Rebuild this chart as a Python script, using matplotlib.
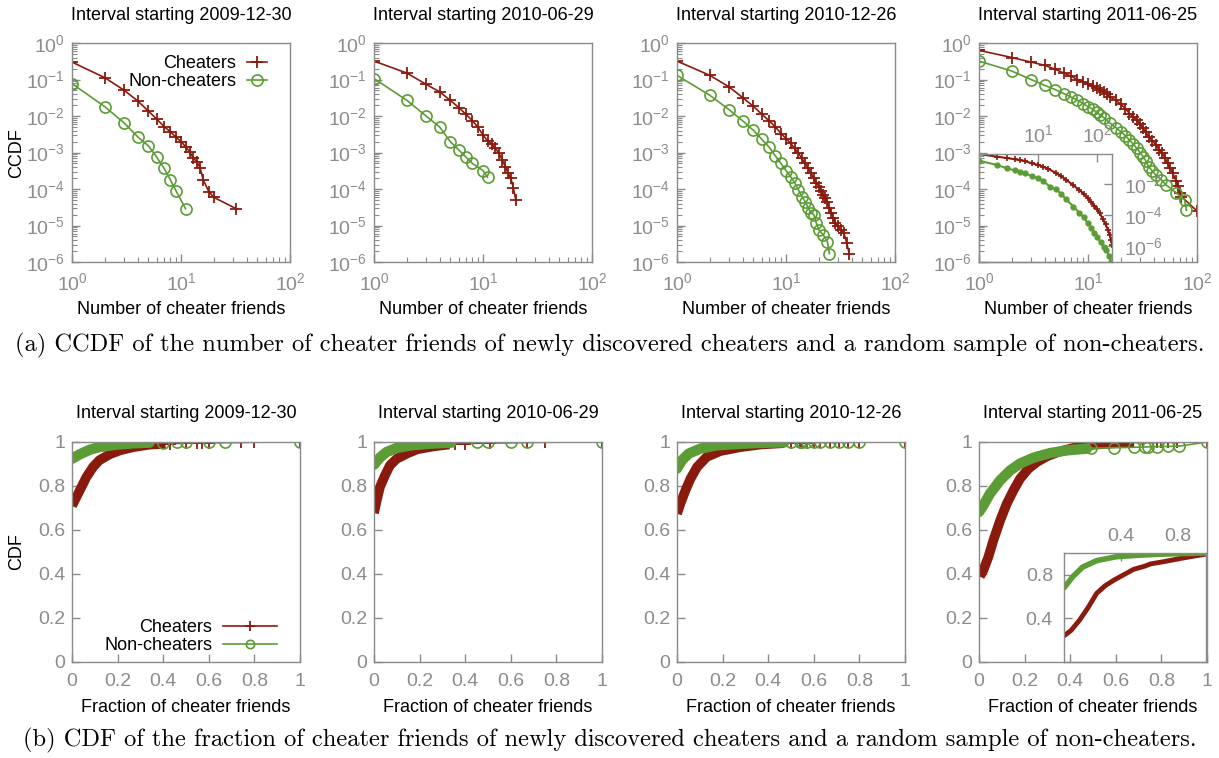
import matplotlib
matplotlib.use("Agg")
import matplotlib.pyplot as plt
from matplotlib.ticker import FixedLocator, NullFormatter, LogLocator

# Style parameters
RED = "#8b1a0e"
GREEN = "#5b9c34"
GRAY_AXIS = "#8a8a8a"
GRAY_TEXT = "#8c8c8c"
FONT = "Liberation Sans"
FS = 13
FS_TICK = 14

plt.rcParams["font.family"] = [FONT, "DejaVu Sans"]
plt.rcParams["mathtext.fontset"] = "custom"
plt.rcParams["mathtext.rm"] = FONT
plt.rcParams["mathtext.it"] = FONT
plt.rcParams["mathtext.bf"] = FONT

# ---------------- data ----------------
titles = ["Interval starting 2009-12-30", "Interval starting 2010-06-29",
          "Interval starting 2010-12-26", "Interval starting 2011-06-25"]

# (a) CCDF of number of cheater friends
ccdf_cheat_x1 = [1, 2, 3, 4, 5, 6, 7, 8, 9, 10, 11, 12, 13, 14, 15, 16, 18, 20, 32]
ccdf_cheat_y1 = [0.30, 0.112, 0.051, 0.026, 0.0138, 0.0082, 0.0051, 0.0037, 0.0026, 0.0020,
                 0.00145, 0.00105, 0.00069, 0.00056, 0.00037, 0.000177, 8.5e-5, 5.9e-5, 2.9e-5]
ccdf_non_x1 = [1, 2, 3, 4, 5, 6, 7, 8, 9, 11]
ccdf_non_y1 = [0.077, 0.018, 0.0065, 0.0027, 0.00154, 0.00074, 0.00037, 0.000177, 8.9e-5, 2.9e-5]

ccdf_cheat_x2 = [1, 2, 3, 4, 5, 6, 7, 8, 9, 10, 11, 12, 13, 14, 15, 16, 17, 18, 19, 20]
ccdf_cheat_y2 = [0.32, 0.15, 0.074, 0.046, 0.027, 0.017, 0.011, 0.0074, 0.0049, 0.0030,
                 0.0021, 0.0017, 0.0013, 0.00095, 0.00063, 0.00041, 0.00027, 0.000196,
                 0.000105, 5e-5]
ccdf_non_x2 = [1, 2, 3, 4, 5, 6, 7, 8, 10, 11]
ccdf_non_y2 = [0.106, 0.027, 0.010, 0.005, 0.0020, 0.00117, 0.00074, 0.0005, 0.00032, 0.00021]

ccdf_cheat_x3 = [1, 2, 3, 4, 5, 6, 7, 8, 9, 10, 11, 12, 13, 14, 15, 16, 17, 18, 19, 20,
                 21, 22, 23, 24, 25, 26, 27, 28, 30, 32, 34, 36, 38]
ccdf_cheat_y3 = [0.32, 0.13, 0.063, 0.032, 0.0186, 0.0112, 0.0074, 0.0050, 0.0033, 0.0024,
                 0.0018, 0.0013, 0.00095, 0.00069, 0.0005, 0.00037, 0.00027, 0.000196,
                 0.00015, 1.17e-4, 9e-5, 6.9e-5, 5.5e-5, 4.3e-5, 3.1e-5, 2.2e-5, 1.6e-5,
                 1.2e-5, 9.4e-6, 7.5e-6, 6.2e-6, 3.4e-6, 1.7e-6]
ccdf_non_x3 = [1, 2, 3, 4, 5, 6, 7, 8, 9, 10, 11, 12, 13, 14, 15, 16, 17, 18, 19, 20,
               22, 24, 25]
ccdf_non_y3 = [0.13, 0.037, 0.015, 0.0074, 0.0041, 0.0023, 0.0014, 0.0008, 0.0005, 0.00032,
               0.00022, 0.00015, 9.4e-5, 6.2e-5, 4.5e-5, 3.0e-5, 2.2e-5, 2e-5, 1.15e-5,
               7.6e-6, 5.5e-6, 3.6e-6, 1.7e-6]

ccdf_cheat_x4 = [1, 2, 3, 4, 5, 6, 7, 8, 9, 10, 11, 12, 13, 14, 15, 16, 18, 20, 22, 24, 26,
                 28, 30, 32, 34, 36, 39, 42, 45, 48, 51, 54, 57, 60, 64, 67, 70, 72, 100]
ccdf_cheat_y4 = [0.63, 0.40, 0.30, 0.245, 0.19, 0.15, 0.123, 0.10, 0.088, 0.074, 0.066,
                 0.058, 0.051, 0.045, 0.039, 0.033, 0.027, 0.021, 0.016, 0.0117, 0.0095,
                 0.0077, 0.006, 0.0046, 0.0036, 0.0027, 0.0021, 0.0016, 0.0012, 0.00095,
                 0.0007, 0.0005, 0.00037, 0.00027, 0.00017, 0.00012, 8e-5, 6.2e-5, 2.5e-5]
ccdf_non_x4 = [1, 2, 3, 4, 5, 6, 7, 8, 9, 10, 11, 12, 13, 14, 16, 18, 20, 22, 24, 26, 28,
               30, 32, 34, 36, 39, 42, 47, 52, 64, 77, 80]
ccdf_non_y4 = [0.32, 0.17, 0.10, 0.069, 0.053, 0.041, 0.033, 0.027, 0.022, 0.018, 0.0155,
               0.0125, 0.0105, 0.009, 0.0063, 0.0048, 0.0037, 0.0029, 0.0022, 0.0017, 0.0013,
               0.001, 0.00077, 0.00058, 0.00041, 0.00031, 0.00024, 0.00018, 0.00013, 8e-5,
               5e-5, 2.6e-5]

# inset of the last CCDF panel
inset_ccdf_cheat_x = [1, 2, 3, 4, 5, 6, 8, 10, 12, 15, 20, 25, 30, 40, 50, 60, 70, 80, 90,
                      100, 112, 125, 140, 155, 165, 175, 180]
inset_ccdf_cheat_y = [0.8, 0.54, 0.44, 0.37, 0.32, 0.28, 0.2, 0.16, 0.125, 0.09, 0.05, 0.03,
                      0.018, 0.008, 0.004, 0.0023, 0.0012, 0.0007, 0.0004, 0.00023, 0.00013,
                      6e-5, 2.5e-5, 1.1e-5, 5e-6, 2.5e-6, 1.3e-6]
inset_ccdf_non_x = [1, 2, 3, 4, 5, 6, 8, 10, 12, 16, 20, 25, 30, 40, 50, 60, 70, 80, 90, 100,
                    115, 130, 145, 160, 170]
inset_ccdf_non_y = [0.30, 0.16, 0.097, 0.072, 0.059, 0.048, 0.03, 0.022, 0.016, 0.0065,
                    0.0045, 0.0022, 0.001, 0.00035, 0.00014, 7e-5, 3e-5, 1.5e-5, 7e-6, 4e-6,
                    1.8e-6, 9e-7, 5.9e-7, 2.5e-7, 1.06e-7]

# (b) CDF of fraction of cheater friends: dense part ("band") and sparse tail
cdf_cheat_band_x = [
    [0, 0.034, 0.063, 0.092, 0.12, 0.165, 0.21, 0.27, 0.34, 0.41],
    [0, 0.012, 0.026, 0.048, 0.07, 0.1, 0.15, 0.19, 0.26, 0.33],
    [0, 0.015, 0.037, 0.059, 0.088, 0.13, 0.19, 0.28, 0.37, 0.47],
    [0.004, 0.019, 0.041, 0.063, 0.093, 0.122, 0.151, 0.18, 0.217, 0.254, 0.298, 0.357,
     0.43, 0.504, 0.606, 0.68],
]
cdf_cheat_band_y = [
    [0.71, 0.78, 0.84, 0.886, 0.917, 0.944, 0.962, 0.977, 0.988, 0.992],
    [0.677, 0.735, 0.795, 0.848, 0.894, 0.924, 0.95, 0.967, 0.98, 0.989],
    [0.674, 0.72, 0.78, 0.833, 0.886, 0.932, 0.959, 0.977, 0.989, 0.995],
    [0.389, 0.417, 0.477, 0.553, 0.644, 0.72, 0.78, 0.833, 0.879, 0.909, 0.935, 0.958,
     0.977, 0.988, 0.995, 0.998],
]
cdf_cheat_tail_x = [
    [0.43, 0.5, 0.55, 0.57, 0.6, 0.74, 0.8, 1.0],
    [0.355, 0.4, 0.51, 0.67, 0.75, 1.0],
    [0.5, 0.54, 0.55, 0.57, 0.6, 0.625, 0.67, 0.71, 0.75, 0.8, 1.0],
    [0.72, 0.78, 0.8, 0.83, 0.87, 1.0],
]
cdf_cheat_tail_y = [
    [0.993, 0.995, 0.996, 0.997, 0.997, 0.998, 0.999, 1.0],
    [0.99, 0.993, 0.996, 0.998, 0.999, 1.0],
    [0.996, 0.997, 0.997, 0.997, 0.998, 0.998, 0.998, 0.999, 0.999, 0.999, 1.0],
    [0.998, 0.999, 0.999, 0.999, 0.999, 1.0],
]
cdf_non_band_x = [
    [0, 0.034, 0.078, 0.12, 0.195, 0.27, 0.34],
    [0, 0.026, 0.056, 0.1, 0.165, 0.24, 0.34],
    [0, 0.022, 0.051, 0.103, 0.176, 0.28, 0.4, 0.47],
    [0, 0.019, 0.048, 0.093, 0.137, 0.18, 0.24, 0.313, 0.386, 0.474],
]
cdf_non_band_y = [
    [0.924, 0.944, 0.965, 0.977, 0.988, 0.994, 0.997],
    [0.897, 0.929, 0.955, 0.973, 0.985, 0.992, 0.997],
    [0.879, 0.917, 0.947, 0.97, 0.985, 0.992, 0.997, 0.998],
    [0.682, 0.712, 0.765, 0.826, 0.871, 0.902, 0.929, 0.95, 0.962, 0.97],
]
cdf_non_tail_x = [
    [0.4, 0.46, 0.5, 0.6, 0.67, 1.0],
    [0.45, 0.5, 0.6, 0.67, 1.0],
    [0.5, 0.54, 0.55, 0.57, 0.6, 0.625, 0.67, 0.71, 0.75, 0.8, 1.0],
    [0.49, 0.59, 0.68, 0.73, 0.74, 0.78, 0.83, 0.877, 1.0],
]
cdf_non_tail_y = [
    [0.997, 0.998, 0.998, 0.999, 0.999, 1.0],
    [0.998, 0.998, 0.999, 0.999, 1.0],
    [0.998, 0.998, 0.998, 0.999, 0.999, 0.999, 0.999, 0.999, 0.999, 0.999, 1.0],
    [0.972, 0.974, 0.976, 0.977, 0.978, 0.979, 0.98, 0.981, 1.0],
]

# inset of the last CDF panel
inset_cdf_cheat_x = [0, 0.05, 0.11, 0.17, 0.23, 0.29, 0.35, 0.42, 0.49, 0.57, 0.61, 0.7, 0.82, 1.0]
inset_cdf_cheat_y = [0.24, 0.29, 0.385, 0.5, 0.63, 0.7, 0.75, 0.8, 0.85, 0.88, 0.9, 0.92, 0.95, 0.99]
inset_cdf_non_x = [0, 0.03, 0.06, 0.13, 0.23, 0.37, 0.53, 0.7, 1.0]
inset_cdf_non_y = [0.68, 0.73, 0.78, 0.87, 0.93, 0.966, 0.98, 0.99, 1.0]

caption_a = ("(a) CCDF of the number of cheater friends of newly discovered cheaters "
             "and a random sample of non-cheaters.")
caption_b = ("(b) CDF of the fraction of cheater friends of newly discovered cheaters "
             "and a random sample of non-cheaters.")

# ---------------- layout (pixels of a 1219x758 canvas) ----------------
W, H = 1219, 758
lefts = [72, 374, 677, 979]


def px_axes(fig, left, top, width, height):
    return fig.add_axes([left / W, 1 - (top + height) / H, width / W, height / H])


def style_axes(ax):
    for s in ax.spines.values():
        s.set_color(GRAY_AXIS)
        s.set_linewidth(1.0)
    ax.tick_params(which="both", direction="in", colors=GRAY_AXIS, labelcolor=GRAY_TEXT,
                   labelsize=FS_TICK, top=False, right=False, pad=5)
    ax.tick_params(which="major", length=6, width=1)
    ax.tick_params(which="minor", length=3.5, width=0.8)


def main():
    fig = plt.figure(figsize=(W / 100, H / 100), dpi=100)

    ccdf = [
        (ccdf_cheat_x1, ccdf_cheat_y1, ccdf_non_x1, ccdf_non_y1),
        (ccdf_cheat_x2, ccdf_cheat_y2, ccdf_non_x2, ccdf_non_y2),
        (ccdf_cheat_x3, ccdf_cheat_y3, ccdf_non_x3, ccdf_non_y3),
        (ccdf_cheat_x4, ccdf_cheat_y4, ccdf_non_x4, ccdf_non_y4),
    ]

    ##############
    # CCDF row   #
    ##############
    for i, (cx, cy, nx, ny) in enumerate(ccdf):
        ax = px_axes(fig, lefts[i], 43, 218, 219)
        ax.plot(cx, cy, color=RED, lw=1.2, marker="+", ms=8, mew=1.3, label="Cheaters")
        ax.plot(nx, ny, color=GREEN, lw=1.2, marker="o", ms=8, mfc="none", mew=1.2,
                label="Non-cheaters")
        ax.set_xscale("log")
        ax.set_yscale("log")
        ax.set_xlim(1, 100)
        ax.set_ylim(1e-6, 1)
        ax.xaxis.set_major_locator(FixedLocator([1, 10, 100]))
        ax.yaxis.set_major_locator(FixedLocator([10.0 ** k for k in range(-6, 1)]))
        ax.xaxis.set_minor_locator(LogLocator(subs=range(2, 10)))
        ax.yaxis.set_minor_locator(LogLocator(subs=range(2, 10), numticks=20))
        ax.xaxis.set_minor_formatter(NullFormatter())
        ax.yaxis.set_minor_formatter(NullFormatter())
        style_axes(ax)
        ax.tick_params(axis="x", pad=7)
        cx_px = lefts[i] + 109
        fig.text(cx_px / W, 1 - 15 / H, titles[i], ha="center", va="center", fontsize=FS)
        fig.text(cx_px / W, 1 - 310 / H, "Number of cheater friends", ha="center",
                 va="center", fontsize=FS)
        if i == 0:
            ax.legend(loc="upper right", bbox_to_anchor=(0.895, 0.945), frameon=False,
                      markerfirst=False, fontsize=FS, handlelength=1.1, handletextpad=0.6,
                      borderpad=0, borderaxespad=0, labelspacing=0.05)
        if i == 3:
            ins = px_axes(fig, 979, 154, 133, 108)
            ins.set_facecolor("none")
            ins.plot(inset_ccdf_cheat_x, inset_ccdf_cheat_y, color=RED, lw=1.5,
                     marker="+", ms=4, mew=1.2)
            ins.plot(inset_ccdf_non_x, inset_ccdf_non_y, color=GREEN, lw=1.5,
                     marker="o", ms=3.5)
            ins.set_xscale("log")
            ins.set_yscale("log")
            ins.set_xlim(1, 180)
            ins.set_ylim(1e-7, 0.8)
            ins.xaxis.set_major_locator(FixedLocator([10, 100]))
            ins.yaxis.set_major_locator(FixedLocator([1e-2, 1e-4, 1e-6]))
            ins.xaxis.set_minor_locator(FixedLocator([]))
            ins.yaxis.set_minor_locator(FixedLocator([]))
            style_axes(ins)
            ins.tick_params(top=True, bottom=False, labeltop=True, labelbottom=False,
                            right=True, left=False, labelright=True, labelleft=False,
                            pad=6)
            ins.tick_params(axis="y", pad=9)

    fig.text(17 / W, 1 - 153 / H, "CCDF", rotation=90, ha="center", va="center", fontsize=FS)

    ##############
    # CDF row    #
    ##############
    for i in range(4):
        ax = px_axes(fig, lefts[i], 442, 228, 220)
        bx, by = cdf_cheat_band_x[i], cdf_cheat_band_y[i]
        tx, ty = cdf_cheat_tail_x[i], cdf_cheat_tail_y[i]
        ax.plot(bx + tx, by + ty, color=RED, lw=1.2)
        ax.plot(bx, by, color=RED, lw=7, solid_capstyle="butt")
        ax.plot(tx, ty, color=RED, lw=0, marker="+", ms=8, mew=1.3)
        bx, by = cdf_non_band_x[i], cdf_non_band_y[i]
        tx, ty = cdf_non_tail_x[i], cdf_non_tail_y[i]
        ax.plot(bx + tx, by + ty, color=GREEN, lw=1.2)
        ax.plot(bx, by, color=GREEN, lw=7.5, solid_capstyle="round")
        ax.plot(tx, ty, color=GREEN, lw=0, marker="o", ms=8, mfc="none", mew=1.2)
        ax.set_xlim(0, 1)
        ax.set_ylim(0, 1)
        ticks = [0, 0.2, 0.4, 0.6, 0.8, 1]
        ax.set_xticks(ticks)
        ax.set_yticks(ticks)
        ax.set_xticklabels(["%g" % t for t in ticks])
        ax.set_yticklabels(["%g" % t for t in ticks])
        style_axes(ax)
        ax.tick_params(axis="x", pad=8)
        cx_px = lefts[i] + 114
        fig.text(cx_px / W, 1 - 413 / H, titles[i], ha="center", va="center", fontsize=FS)
        fig.text(cx_px / W, 1 - 708 / H, "Fraction of cheater friends", ha="center",
                 va="center", fontsize=FS)
        if i == 0:
            h1, = ax.plot([], [], color=RED, lw=1.2, marker="+", ms=7, mew=1.3)
            h2, = ax.plot([], [], color=GREEN, lw=1.2, marker="o", ms=6, mfc="none", mew=1.2)
            ax.legend([h1, h2], ["Cheaters", "Non-cheaters"], loc="lower right",
                      bbox_to_anchor=(0.9, 0.035), frameon=False, markerfirst=False,
                      fontsize=FS, handlelength=3.0, handletextpad=0.6, borderpad=0,
                      borderaxespad=0, labelspacing=0.05)
        if i == 3:
            ins = px_axes(fig, 1064, 553, 142, 109)
            ins.set_facecolor("none")
            ins.plot(inset_cdf_cheat_x, inset_cdf_cheat_y, color=RED, lw=3.5)
            ins.plot(inset_cdf_non_x, inset_cdf_non_y, color=GREEN, lw=4,
                     solid_capstyle="round")
            ins.set_xlim(0, 1)
            ins.set_ylim(0, 1)
            ins.set_xticks([0.4, 0.8])
            ins.set_yticks([0.4, 0.8])
            ins.set_xticklabels(["0.4", "0.8"])
            ins.set_yticklabels(["0.4", "0.8"])
            style_axes(ins)
            ins.tick_params(top=True, bottom=False, labeltop=True, labelbottom=False,
                            pad=6)
            ins.tick_params(axis="y", pad=8)

    fig.text(17 / W, 1 - 552 / H, "CDF", rotation=90, ha="center", va="center", fontsize=FS)

    ############
    # Captions #
    ############
    fig.text(0.5, 1 - 345 / H, caption_a, ha="center", va="center", fontsize=17.6,
             family="cmr10")
    fig.text(0.5, 1 - 740 / H, caption_b, ha="center", va="center", fontsize=17.6,
             family="cmr10")

    fig.savefig("out.png", dpi=100)
    plt.close(fig)


if __name__ == "__main__":
    main()
